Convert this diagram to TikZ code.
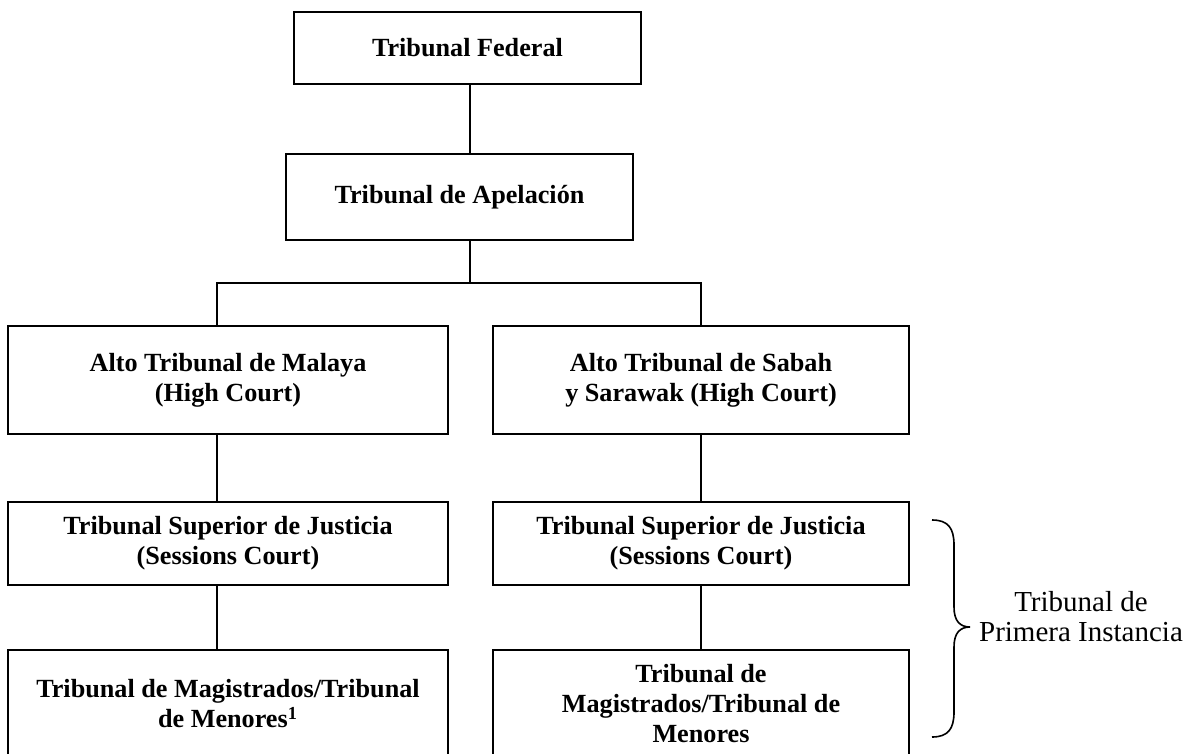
\documentclass[tikz,border=0pt]{standalone}
\usepackage{fontspec}
\setmainfont{Liberation Serif}
\begin{document}
\begin{tikzpicture}[x=0.5pt,y=-0.5pt,
  box/.style={draw, line width=1pt, inner sep=0pt, align=center,
    font=\fontsize{13.1}{15}\selectfont\bfseries},
  link/.style={line width=0.7pt},
  bracepath/.style={line width=0.8pt},
  plain/.style={inner sep=0pt, align=center, font=\fontsize{14.5}{15}\selectfont}]
\useasboundingbox (0,0) rectangle (1188,754);
\clip (0,0) rectangle (1188,754);
% boxes
\node[box, minimum width=173.5pt, minimum height=36pt] (fed) at (467.5,48) {\raisebox{1pt}{Tribunal Federal}};
\node[box, minimum width=173.5pt, minimum height=43pt] (apel) at (459.5,197) {\raisebox{3pt}{Tribunal de Apelación}};
\node[box, minimum width=220pt, minimum height=54pt] (altoL) at (228,380) {Alto Tribunal de Malaya\\(High Court)};
\node[box, minimum width=208pt, minimum height=54pt] (altoR) at (701,380) {Alto Tribunal de Sabah\\y Sarawak (High Court)};
\node[box, minimum width=220pt, minimum height=41.5pt] (sessL) at (228,543.5) {Tribunal Superior de Justicia\\(Sessions Court)};
\node[box, minimum width=208pt, minimum height=41.5pt] (sessR) at (701,543.5) {Tribunal Superior de Justicia\\(Sessions Court)};
\node[box, minimum width=220pt, minimum height=54pt] (magL) at (228,704) {Tribunal de Magistrados/Tribunal\\de Menores\textsuperscript{1}};
\node[box, minimum width=208pt, minimum height=54pt] (magR) at (701,704) {Tribunal de\\Magistrados/Tribunal de\\Menores};
% junction points
\coordinate (jC) at (470,283);
\coordinate (jL) at (217,283);
\coordinate (jR) at (701,283);
% connectors
\draw[link] (fed.south -| jC) -- (apel.north -| jC);
\draw[link] (apel.south -| jC) -- (jC);
\draw[link] (altoL.north -| jL) -- (jL) -- (jR) -- (altoR.north);
\draw[link] (altoL.south -| jL) -- (sessL.north -| jL);
\draw[link] (sessL.south -| jL) -- (magL.north -| jL);
\draw[link] (altoR.south) -- (sessR.north);
\draw[link] (sessR.south) -- (magR.north);
% brace
\coordinate (bT) at (932,520);
\coordinate (bB) at (932,737);
\coordinate (bTip) at (970,627);
\draw[bracepath] (bT) .. controls (948,520) and (954,528) .. (954,545)
  -- (954,607) .. controls (954,621) and (960,627) .. (bTip)
  .. controls (960,627) and (954,633) .. (954,647)
  -- (954,712) .. controls (954,729) and (948,737) .. (bB);
\node[plain] (inst) at (1081,617) {Tribunal de\\Primera Instancia};
\end{tikzpicture}
\end{document}
